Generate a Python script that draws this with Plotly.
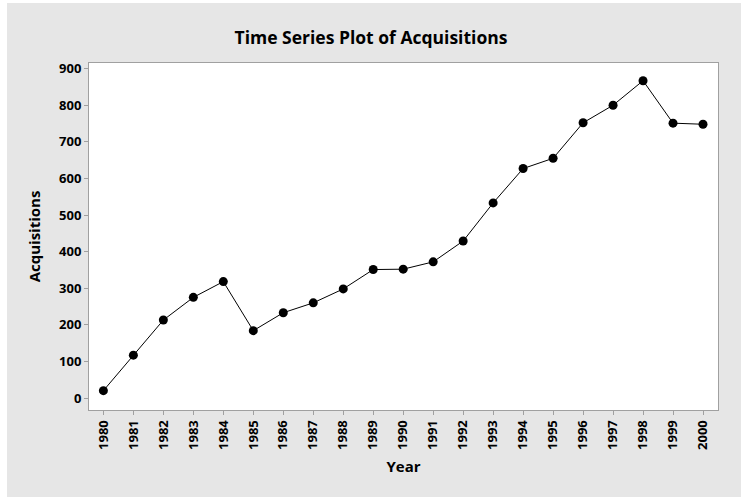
import plotly.graph_objects as go

years = list(range(1980, 2001))
year_labels = [str(y) for y in years]
acquisitions = [20, 117, 213, 275, 318, 184, 233, 260, 298, 351,
                352, 372, 429, 533, 627, 655, 752, 800, 867, 751, 748]
y_ticks = [0, 100, 200, 300, 400, 500, 600, 700, 800, 900]

FONT = "Open Sans"

fig = go.Figure()
fig.add_trace(go.Scatter(
    x=years, y=acquisitions, mode="lines+markers",
    line=dict(color="black", width=1),
    marker=dict(color="black", size=9),
    showlegend=False,
))

L, R, T, B = 89, 23, 63, 87
W, H = 741, 497
pw, ph = W - L - R, H - T - B

# white strips on the left and top edge of the gray panel
fig.add_shape(type="rect", xref="paper", yref="paper",
              x0=-(L + 5) / pw, x1=(7 - L) / pw,
              y0=-(B + 5) / ph, y1=1 + (T + 5) / ph,
              fillcolor="white", line=dict(width=0), layer="below")
fig.add_shape(type="rect", xref="paper", yref="paper",
              x0=-(L + 5) / pw, x1=1 + (R + 5) / pw,
              y0=1 + (T - 3) / ph, y1=1 + (T + 5) / ph,
              fillcolor="white", line=dict(width=0), layer="below")

fig.update_layout(
    width=W, height=H,
    margin=dict(l=L, r=R, t=T, b=B),
    paper_bgcolor="#E6E6E6",
    plot_bgcolor="white",
    font=dict(family=FONT, color="black"),
    title=dict(text="<b>Time Series Plot of Acquisitions</b>",
               x=371 / W, xanchor="center", y=1 - 38 / H, yanchor="middle",
               font=dict(size=17.5, family=FONT)),
    xaxis=dict(
        range=[1979.52, 2000.5],
        tickmode="array", tickvals=years,
        ticktext=[f"<b>{t}</b>" for t in year_labels],
        tickangle=-90,
        ticks="outside", ticklen=4, tickcolor="#A0A0A0",
        showline=True, linecolor="#A0A0A0", linewidth=1, mirror=True,
        showgrid=False, zeroline=False,
        tickfont=dict(size=13),
        title=dict(text="<b>Year</b>", font=dict(size=15), standoff=12),
    ),
    yaxis=dict(
        range=[-32.8, 915.4],
        tickmode="array", tickvals=y_ticks,
        ticktext=[f"<b>{v}</b>" for v in y_ticks],
        ticks="outside", ticklen=4, tickcolor="#A0A0A0",
        showline=True, linecolor="#A0A0A0", linewidth=1, mirror=True,
        showgrid=False, zeroline=False,
        tickfont=dict(size=13),
        title=dict(text="<b>Acquisitions</b>", font=dict(size=15), standoff=14),
    ),
)

fig.write_html("out.html", config={"displayModeBar": False},
               post_script="document.body.style.margin='0';")
